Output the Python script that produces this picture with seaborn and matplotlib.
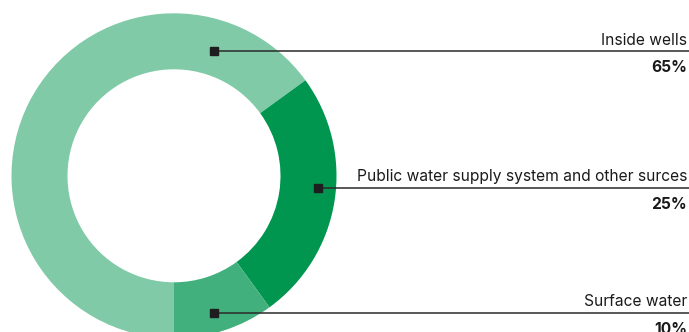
import numpy as np
import matplotlib
matplotlib.use("Agg")
import matplotlib.pyplot as plt
import seaborn as sns

# data
sources = ["Inside wells", "Public water supply system and other surces", "Surface water"]
shares = [65, 25, 10]
share_labels = ["65%", "25%", "10%"]
colors = ["#80CAA8", "#00964F", "#41B07C"]

# where each leader marker sits on the ring (angle in degrees, radius as fraction of outer radius)
marker_angle = [72.2, -4.8, -73.7]
marker_radius = [0.806, 0.889, 0.878]

sns.set_theme(style="white")
plt.rcParams["font.family"] = ["Inter", "DejaVu Sans"]

W, H = 689, 332
R = 162.5          # outer radius in px
cx, cy = 174, 175.8  # centre in px from top-left

fig = plt.figure(figsize=(W / 100, H / 100), dpi=100)
ax = fig.add_axes([0, 0, 1, 1])

ax.pie(shares, colors=colors, startangle=-90, counterclock=False, radius=1,
       wedgeprops=dict(width=56 / R, edgecolor="none", linewidth=0))

px = 1 / R
x_right = (W - 2 - cx) * px

for name, lab, ang, rad in zip(sources, share_labels, marker_angle, marker_radius):
    mx = rad * np.cos(np.radians(ang))
    my = rad * np.sin(np.radians(ang))
    ax.plot([mx, W * px], [my, my], color="#2a2a2a", lw=1.1, solid_capstyle="butt", zorder=3)
    ax.plot(mx, my, marker="s", ms=5.8, color="#1e1e1e", zorder=4)
    ax.text(x_right, my + 6.5 * px, name, ha="right", va="baseline",
            fontsize=11.2, color="#1a1a1a")
    ax.text(x_right, my - 21 * px, lab, ha="right", va="baseline",
            fontsize=11.2, fontweight="bold", color="#1a1a1a")

ax.set_xlim(-cx * px, (W - cx) * px)
ax.set_ylim(-(H - cy) * px, cy * px)
ax.set_aspect("equal", adjustable="box")
ax.axis("off")

fig.savefig("out.png", dpi=100)
